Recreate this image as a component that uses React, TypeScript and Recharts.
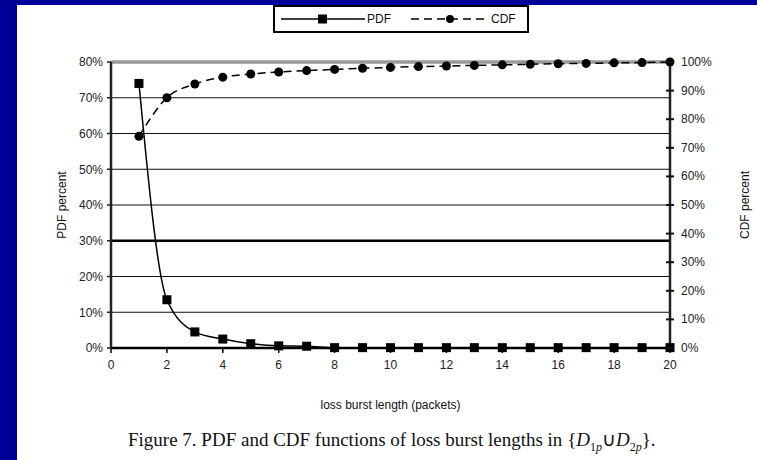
import React from 'react'
import { LineChart, Line, XAxis, YAxis, CartesianGrid, ReferenceLine } from 'recharts'

const burstLengths = [1, 2, 3, 4, 5, 6, 7, 8, 9, 10, 11, 12, 13, 14, 15, 16, 17, 18, 19, 20]
const pdfPercent = [74, 13.5, 4.5, 2.5, 1.2, 0.6, 0.5, 0.1, 0.1, 0.1, 0.1, 0.1, 0.1, 0.1, 0.1, 0.1, 0.1, 0.1, 0.1, 0.1]
const cdfPercent = [74, 87.5, 92.3, 94.7, 95.8, 96.5, 97, 97.4, 97.8, 98.1, 98.4, 98.6, 98.8, 99, 99.2, 99.4, 99.5, 99.7, 99.8, 100]
const xTicks = [0, 2, 4, 6, 8, 10, 12, 14, 16, 18, 20]
const pdfTicks = [0, 10, 20, 30, 40, 50, 60, 70, 80]
const cdfTicks = [0, 10, 20, 30, 40, 50, 60, 70, 80, 90, 100]

const data = burstLengths.map((len, i) => ({
  len,
  pdf: pdfPercent[i],
  cdf: cdfPercent[i],
}))

const FONT = '"Liberation Sans", Arial, sans-serif'

const SquareDot = (props: any) => {
  const { cx, cy, index } = props
  if (cx == null || cy == null) return <g key={`sq-${index}`} />
  return <rect key={`sq-${index}`} x={cx - 4.5} y={cy - 4.5} width={9} height={9} fill="#000" />
}

const RoundDot = (props: any) => {
  const { cx, cy, index } = props
  if (cx == null || cy == null) return <g key={`ci-${index}`} />
  return <circle key={`ci-${index}`} cx={cx} cy={cy} r={4.5} fill="#000" />
}

// right axis ticks cross the axis line
const RightTick = (props: any) => {
  const { x, y, payload } = props
  const ax = x - 11
  return (
    <g>
      <line x1={ax - 4} x2={ax + 4} y1={y} y2={y} stroke="#111" strokeWidth={2} />
      <text x={x} y={y} dy={4} fontSize={12} fontFamily={FONT} fill="#222" textAnchor="start">
        {`${payload.value}%`}
      </text>
    </g>
  )
}

function LegendBox() {
  return (
    <div
      style={{
        position: 'absolute',
        left: 273,
        top: 5,
        width: 252,
        height: 24,
        border: '2px solid #000',
        background: '#fff',
      }}
    >
      <svg width={252} height={24}>
        <line x1={6} x2={90} y1={12} y2={12} stroke="#000" strokeWidth={1.5} />
        <rect x={43} y={7.5} width={9} height={9} fill="#000" />
        <text x={92} y={16} fontSize={12} fontFamily={FONT} fill="#111">PDF</text>
        <line x1={136} x2={214} y1={12} y2={12} stroke="#000" strokeWidth={1.5} strokeDasharray="8 5" />
        <circle cx={175} cy={12} r={4} fill="#000" />
        <text x={216} y={16} fontSize={12} fontFamily={FONT} fill="#111">CDF</text>
      </svg>
    </div>
  )
}

export default function App() {
  return (
    <div
      style={{
        position: 'relative',
        width: 757,
        height: 460,
        background: '#fff',
        overflow: 'hidden',
      }}
    >
      <style>{'body{margin:0}'}</style>
      <div style={{ position: 'absolute', left: 0, top: 0, width: 17, height: 460, background: '#000099' }} />
      <div style={{ position: 'absolute', left: 0, top: 0, width: 757, height: 5, background: '#000099' }} />
      <LegendBox />
      <div style={{ position: 'absolute', left: 0, top: 0 }}>
        <LineChart
          width={757}
          height={460}
          data={data}
          margin={{ top: 62, right: 37, bottom: 82, left: 61 }}
        >
          <CartesianGrid vertical={false} stroke="#111" strokeWidth={1} yAxisId="pdf" />
          <XAxis
            dataKey="len"
            type="number"
            domain={[0, 20]}
            ticks={xTicks}
            interval={0}
            height={30}
            tickSize={5}
            tickMargin={7}
            axisLine={{ stroke: '#000', strokeWidth: 2.5 }}
            tickLine={{ stroke: '#000', strokeWidth: 1.5 }}
            tick={{ fontSize: 12, fontFamily: FONT, fill: '#222' }}
          />
          <YAxis
            yAxisId="pdf"
            domain={[0, 80]}
            ticks={pdfTicks}
            interval={0}
            width={50}
            tickSize={4}
            tickMargin={4}
            tickFormatter={(v: number) => `${v}%`}
            axisLine={{ stroke: '#222', strokeWidth: 2.5 }}
            tickLine={{ stroke: '#222', strokeWidth: 1.5 }}
            tick={{ fontSize: 12, fontFamily: FONT, fill: '#222' }}
          />
          <YAxis
            yAxisId="cdf"
            orientation="right"
            domain={[0, 100]}
            ticks={cdfTicks}
            interval={0}
            width={50}
            tickSize={5}
            tickMargin={6}
            axisLine={{ stroke: '#222', strokeWidth: 2.5 }}
            tickLine={false}
            tick={<RightTick />}
          />
          <ReferenceLine yAxisId="pdf" y={30} stroke="#000" strokeWidth={2.5} />
          <ReferenceLine yAxisId="pdf" y={80} stroke="#999" strokeWidth={3.5} />
          <Line
            yAxisId="pdf"
            dataKey="pdf"
            type="monotone"
            stroke="#000"
            strokeWidth={1.5}
            dot={SquareDot}
            activeDot={false}
            isAnimationActive={false}
          />
          <Line
            yAxisId="cdf"
            dataKey="cdf"
            type="monotone"
            stroke="#000"
            strokeWidth={1.5}
            strokeDasharray="8 5"
            dot={RoundDot}
            activeDot={false}
            isAnimationActive={false}
          />
        </LineChart>
      </div>
      <div
        style={{
          position: 'absolute',
          left: 22,
          top: 198,
          width: 80,
          textAlign: 'center',
          transform: 'rotate(-90deg)',
          fontFamily: FONT,
          fontSize: 12,
          color: '#111',
        }}
      >
        PDF percent
      </div>
      <div
        style={{
          position: 'absolute',
          left: 705,
          top: 198,
          width: 80,
          textAlign: 'center',
          transform: 'rotate(-90deg)',
          fontFamily: FONT,
          fontSize: 12,
          color: '#111',
        }}
      >
        CDF percent
      </div>
      <div
        style={{
          position: 'absolute',
          left: 111,
          top: 398,
          width: 559,
          textAlign: 'center',
          fontFamily: FONT,
          fontSize: 12,
          color: '#111',
        }}
      >
        loss burst length (packets)
      </div>
      <div
        style={{
          position: 'absolute',
          left: 128,
          top: 428,
          whiteSpace: 'nowrap',
          fontFamily: '"Liberation Serif", "Times New Roman", serif',
          fontSize: 19,
          color: '#111',
        }}
      >
        Figure 7. PDF and CDF functions of loss burst lengths in {'{'}
        <i>D</i>
        <sub style={{ fontSize: 12 }}>1<i>p</i></sub>∪<i>D</i>
        <sub style={{ fontSize: 12 }}>2<i>p</i></sub>
        {'}'}.
      </div>
    </div>
  )
}
